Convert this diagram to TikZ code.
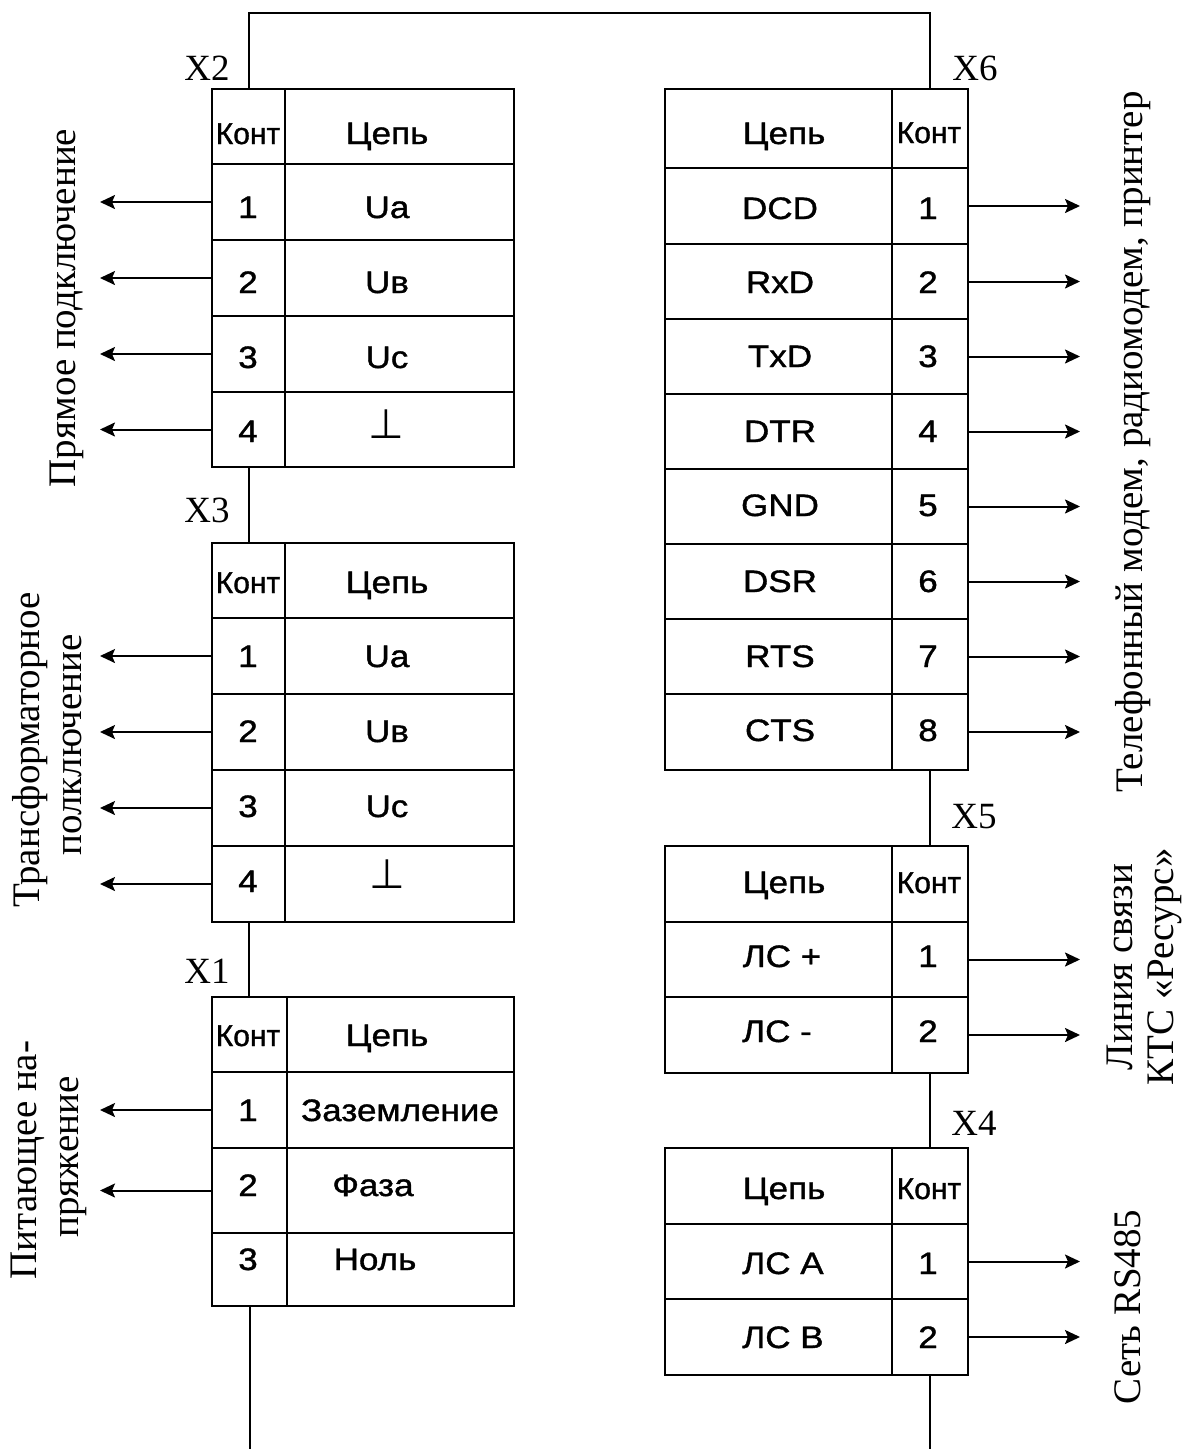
\documentclass[tikz,border=0pt]{standalone}
\usepackage{fontspec}
\setmainfont{Liberation Serif}
\newfontfamily\sansf[FakeStretch=1.13,FakeBold=1.2]{Liberation Sans}
\newfontfamily\sansk[FakeBold=1.2]{Liberation Sans}
\newfontfamily\symf{DejaVu Sans}
\usetikzlibrary{arrows.meta}
\newcommand\cellbox[5]{\node[cell, minimum width=#4pt, minimum height=#5pt] (#1) at (#2,#3) {};}
\newcommand\tx[4]{\node[tab] (#1) at (#2,#3) {#4};}
\newcommand\tk[4]{\node[kont] (#1) at (#2,#3) {#4};}
\begin{document}
\begin{tikzpicture}[x=1pt,y=-1pt,
  cell/.style={draw, line width=2pt, inner sep=0pt, outer sep=0pt, anchor=north west},
  tab/.style={font=\sansf\fontsize{31}{36}\selectfont, inner sep=0pt, anchor=base},
  kont/.style={font=\sansk\fontsize{30}{36}\selectfont, inner sep=0pt, anchor=base},
  lbl/.style={font=\fontsize{37}{44}\selectfont, inner sep=0pt, anchor=base},
  side/.style={font=\fontsize{39}{45}\selectfont, inner sep=0pt, rotate=90},
  gnd/.style={font=\symf\fontsize{41}{46}\selectfont, inner sep=0pt, anchor=base},
  wire/.style={line width=2pt},
  arr/.style={wire, -{Stealth[length=15pt,width=14pt,inset=3pt]}}]
\useasboundingbox (0,0) rectangle (1190,1449);
\coordinate (topbus) at (0,13);
\coordinate (botbus) at (0,1449);
\coordinate (lend) at (100,0);
\coordinate (rend) at (1080,0);

% ---------- X2 ----------
\cellbox{x2k0}{212}{89}{73}{75}   \cellbox{x2c0}{285}{89}{229}{75}
\cellbox{x2k1}{212}{164}{73}{76}  \cellbox{x2c1}{285}{164}{229}{76}
\cellbox{x2k2}{212}{240}{73}{76}  \cellbox{x2c2}{285}{240}{229}{76}
\cellbox{x2k3}{212}{316}{73}{76}  \cellbox{x2c3}{285}{316}{229}{76}
\cellbox{x2k4}{212}{392}{73}{75}  \cellbox{x2c4}{285}{392}{229}{75}
\tk{t2k0}{248}{144}{Конт} \tx{t2c0}{387}{144}{Цепь}
\tx{t2k1}{248}{218}{1} \tx{t2c1}{387}{218}{Ua}
\tx{t2k2}{248}{293}{2} \tx{t2c2}{387}{293}{Uв}
\tx{t2k3}{248}{368}{3} \tx{t2c3}{387}{368}{Uc}
\tx{t2k4}{248}{442}{4} \node[gnd] (t2c4) at (386,438) {⊥};
\node[lbl] (lx2) at (207,80) {X2};

% ---------- X3 ----------
\cellbox{x3k0}{212}{543}{73}{75}  \cellbox{x3c0}{285}{543}{229}{75}
\cellbox{x3k1}{212}{618}{73}{76}  \cellbox{x3c1}{285}{618}{229}{76}
\cellbox{x3k2}{212}{694}{73}{76}  \cellbox{x3c2}{285}{694}{229}{76}
\cellbox{x3k3}{212}{770}{73}{76}  \cellbox{x3c3}{285}{770}{229}{76}
\cellbox{x3k4}{212}{846}{73}{76}  \cellbox{x3c4}{285}{846}{229}{76}
\tk{t3k0}{248}{593}{Конт} \tx{t3c0}{387}{593}{Цепь}
\tx{t3k1}{248}{667}{1} \tx{t3c1}{387}{667}{Ua}
\tx{t3k2}{248}{742}{2} \tx{t3c2}{387}{742}{Uв}
\tx{t3k3}{248}{817}{3} \tx{t3c3}{387}{817}{Uc}
\tx{t3k4}{248}{892}{4} \node[gnd] (t3c4) at (387,888) {⊥};
\node[lbl] (lx3) at (207,522) {X3};

% ---------- X1 ----------
\cellbox{x1k0}{212}{997}{75}{75}   \cellbox{x1c0}{287}{997}{227}{75}
\cellbox{x1k1}{212}{1072}{75}{76}  \cellbox{x1c1}{287}{1072}{227}{76}
\cellbox{x1k2}{212}{1148}{75}{85}  \cellbox{x1c2}{287}{1148}{227}{85}
\cellbox{x1k3}{212}{1233}{75}{73}  \cellbox{x1c3}{287}{1233}{227}{73}
\tk{t1k0}{248}{1046}{Конт} \tx{t1c0}{387}{1046}{Цепь}
\tx{t1k1}{248}{1121}{1} \tx{t1c1}{400}{1121}{Заземление}
\tx{t1k2}{248}{1196}{2} \tx{t1c2}{373}{1196}{Фаза}
\tx{t1k3}{248}{1270}{3} \tx{t1c3}{375}{1270}{Ноль}
\node[lbl] (lx1) at (207,983) {X1};

% ---------- X6 ----------
\cellbox{x6c0}{665}{89}{227}{79}   \cellbox{x6k0}{892}{89}{76}{79}
\cellbox{x6c1}{665}{168}{227}{76}  \cellbox{x6k1}{892}{168}{76}{76}
\cellbox{x6c2}{665}{244}{227}{75}  \cellbox{x6k2}{892}{244}{76}{75}
\cellbox{x6c3}{665}{319}{227}{75}  \cellbox{x6k3}{892}{319}{76}{75}
\cellbox{x6c4}{665}{394}{227}{75}  \cellbox{x6k4}{892}{394}{76}{75}
\cellbox{x6c5}{665}{469}{227}{75}  \cellbox{x6k5}{892}{469}{76}{75}
\cellbox{x6c6}{665}{544}{227}{75}  \cellbox{x6k6}{892}{544}{76}{75}
\cellbox{x6c7}{665}{619}{227}{75}  \cellbox{x6k7}{892}{619}{76}{75}
\cellbox{x6c8}{665}{694}{227}{76}  \cellbox{x6k8}{892}{694}{76}{76}
\tx{t6c0}{784}{144}{Цепь} \tk{t6k0}{929}{143}{Конт}
\tx{t6c1}{780}{219}{DCD} \tx{t6k1}{928}{219}{1}
\tx{t6c2}{780}{293}{RxD} \tx{t6k2}{928}{293}{2}
\tx{t6c3}{780}{367}{TxD} \tx{t6k3}{928}{367}{3}
\tx{t6c4}{780}{442}{DTR} \tx{t6k4}{928}{442}{4}
\tx{t6c5}{780}{516}{GND} \tx{t6k5}{928}{516}{5}
\tx{t6c6}{780}{592}{DSR} \tx{t6k6}{928}{592}{6}
\tx{t6c7}{780}{667}{RTS} \tx{t6k7}{928}{667}{7}
\tx{t6c8}{780}{741}{CTS} \tx{t6k8}{928}{741}{8}
\node[lbl] (lx6) at (975,80) {X6};

% ---------- X5 ----------
\cellbox{x5c0}{665}{846}{227}{76}  \cellbox{x5k0}{892}{846}{76}{76}
\cellbox{x5c1}{665}{922}{227}{75}  \cellbox{x5k1}{892}{922}{76}{75}
\cellbox{x5c2}{665}{997}{227}{76}  \cellbox{x5k2}{892}{997}{76}{76}
\tx{t5c0}{784}{893}{Цепь} \tk{t5k0}{929}{893}{Конт}
\tx{t5c1}{782}{967}{ЛС +} \tx{t5k1}{928}{967}{1}
\tx{t5c2}{777}{1042}{ЛС -} \tx{t5k2}{928}{1042}{2}
\node[lbl] (lx5) at (974,828) {X5};

% ---------- X4 ----------
\cellbox{x4c0}{665}{1148}{227}{76}  \cellbox{x4k0}{892}{1148}{76}{76}
\cellbox{x4c1}{665}{1224}{227}{75}  \cellbox{x4k1}{892}{1224}{76}{75}
\cellbox{x4c2}{665}{1299}{227}{76}  \cellbox{x4k2}{892}{1299}{76}{76}
\tx{t4c0}{784}{1199}{Цепь} \tk{t4k0}{929}{1199}{Конт}
\tx{t4c1}{783}{1274}{ЛС А} \tx{t4k1}{928}{1274}{1}
\tx{t4c2}{783}{1348}{ЛС В} \tx{t4k2}{928}{1348}{2}
\node[lbl] (lx4) at (974,1135) {X4};

% ---------- bus lines ----------
\draw[wire] (x2k0.north) |- (x6k0.north |- topbus) -- (x6k0.north);
\draw[wire] (x2k4.south) -- (x3k0.north);
\draw[wire] (x3k4.south) -- (x3k4.south |- x1k0.north);
\draw[wire] (x1k3.south) -- (x1k3.south |- botbus);
\draw[wire] (x6k8.south) -- (x5k0.north);
\draw[wire] (x5k2.south) -- (x4k0.north);
\draw[wire] (x4k2.south) -- (x4k2.south |- botbus);

% ---------- arrows ----------
\foreach \i in {1,2,3,4}{
  \draw[arr] (x2k\i.west) -- (x2k\i.west -| lend);
  \draw[arr] (x3k\i.west) -- (x3k\i.west -| lend);
}
\foreach \i in {1,2}{
  \draw[arr] (x1k\i.west) -- (x1k\i.west -| lend);
  \draw[arr] (x5k\i.east) -- (x5k\i.east -| rend);
  \draw[arr] (x4k\i.east) -- (x4k\i.east -| rend);
}
\foreach \i in {1,...,8}{
  \draw[arr] (x6k\i.east) -- (x6k\i.east -| rend);
}

% ---------- side labels ----------
\node[side] (s1) at (67,308) {Прямое подключение};
\node[side] (s2a) at (30,750) {Трансформаторное};
\node[side] (s2b) at (73,745) {полключение};
\node[side] (s3a) at (28,1160) {Питающее на-};
\node[side] (s3b) at (73,1157) {пряжение};
\node[side] (s4) at (1133,442) {Телефонный модем, радиомодем, принтер};
\node[side] (s5a) at (1120,967) {Линия связи};
\node[side] (s5b) at (1165,967) {КТС «Ресурс»};
\node[side] (s6) at (1128,1307) {Сеть RS485};
\end{tikzpicture}
\end{document}
